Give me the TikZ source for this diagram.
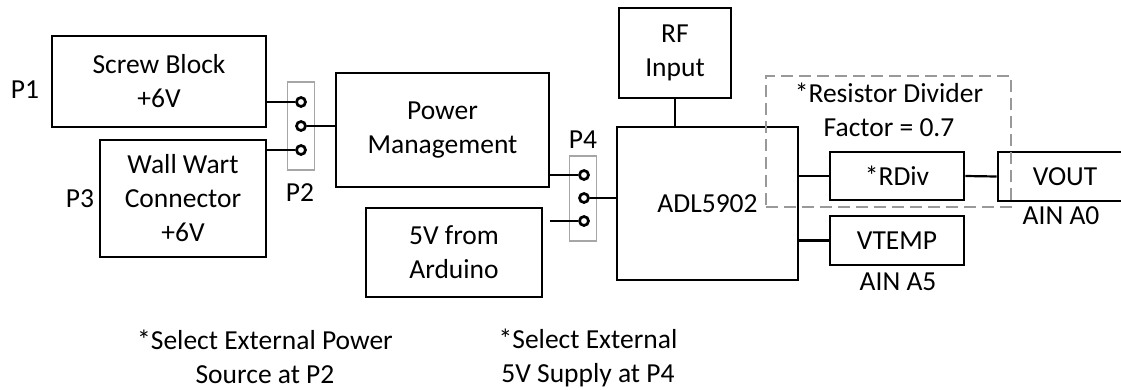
\documentclass[tikz,border=0pt]{standalone}
\usepackage{fontspec}
\setmainfont{Carlito}
\usepackage{xcolor}

\begin{document}
\begin{tikzpicture}[
  x=1pt, y=-1pt,
  blk/.style={
    draw=black, line width=2.9pt, align=center,
    minimum width=#1, inner sep=0pt
  },
  lbl/.style={
    align=center, inner sep=0pt
  },
  hdr/.style={
    draw=gray!70, line width=1.4pt, minimum width=27pt, inner sep=0pt
  },
  pin/.style={
    circle, draw=black, fill=white, line width=2.7pt,
    minimum size=9pt, inner sep=0pt
  },
  wire/.style={
    line width=2.2pt, color=black
  },
  grp/.style={
    draw=gray!80, line width=2pt, dash pattern=on 12pt off 6pt
  },
  font=\fontsize{27.5}{34}\selectfont
]
\useasboundingbox (0,0) rectangle (1121,389);

% Power sources
\node[blk=214pt, minimum height=91pt]  (screw) at (159, 81.5)  {Screw Block\\+6V};
\node[blk=166pt, minimum height=117pt] (wall)  at (183, 198.5) {Wall Wart\\Connector\\+6V};
\node[lbl] (p1) at (25, 90)  {P1};
\node[lbl] (p3) at (80, 199) {P3};

% Header P2
\node[hdr, minimum height=88pt] (p2hdr) at (301, 126) {};
\node[pin] (p2a) at (301, 102) {};
\node[pin] (p2b) at (301, 126) {};
\node[pin] (p2c) at (301, 150) {};
\node[lbl] (p2) at (300, 193) {P2};

% Power blocks
\node[blk=213pt, minimum height=114pt] (pm)  at (442.5, 130)  {Power\\Management};
\node[blk=176pt, minimum height=89pt]  (ard) at (454, 252.5)  {5V from\\Arduino};

% Header P4
\node[hdr, minimum height=85pt] (p4hdr) at (583, 198.5) {};
\node[pin] (p4a) at (584, 175) {};
\node[pin] (p4b) at (584, 198) {};
\node[pin] (p4c) at (584, 221) {};
\node[lbl] (p4) at (583, 140) {P4};

% Detector and outputs
\node[blk=181pt, minimum height=153pt] (adl)   at (707.5, 203.5) {ADL5902};
\node[blk=112pt, minimum height=90pt]  (rf)    at (675, 53)      {RF\\Input};
\node[blk=134pt, minimum height=48pt]  (rdiv)  at (897, 176)     {*RDiv};
\node[blk=134pt, minimum height=49pt]  (vout)  at (1065, 176.5)  {VOUT};
\node[blk=134pt, minimum height=49pt]  (vtemp) at (897, 240.5)   {VTEMP};
\node[lbl] (ain0) at (1061, 216) {AIN A0};
\node[lbl] (ain5) at (898, 282)  {AIN A5};

% Resistor divider group
\node[grp, minimum width=245pt, minimum height=131pt] (divgrp) at (888.5, 141.5) {};
\node[lbl] (divtxt) at (889, 110) {*Resistor Divider\\Factor = 0.7};

% Wires
\draw[wire] (screw.east |- p2a) -- (p2a.west);
\draw[wire] (wall.east |- p2c)  -- (p2c.west);
\draw[wire] (p2b.east) -- (pm.west |- p2b);
\draw[wire] (pm.east |- p4a)  -- (p4a.west);
\draw[wire] ([xshift=7pt]ard.east |- p4c) -- (p4c.west);
\draw[wire] (p4b.east) -- (adl.west |- p4b);
\draw[wire] (rf.south) -- (rf.south |- adl.north);
\draw[wire] (adl.east |- rdiv.west) -- (rdiv.west);
\draw[wire] (rdiv.east) -- (vout.west);
\draw[wire] (adl.east |- vtemp.west) -- (vtemp.west);

% Notes
\node[lbl] (note1) at (265, 357) {*Select External Power\\Source at P2};
\node[lbl] (note2) at (588, 358) {*Select External\\5V Supply at P4};

\end{tikzpicture}
\end{document}
